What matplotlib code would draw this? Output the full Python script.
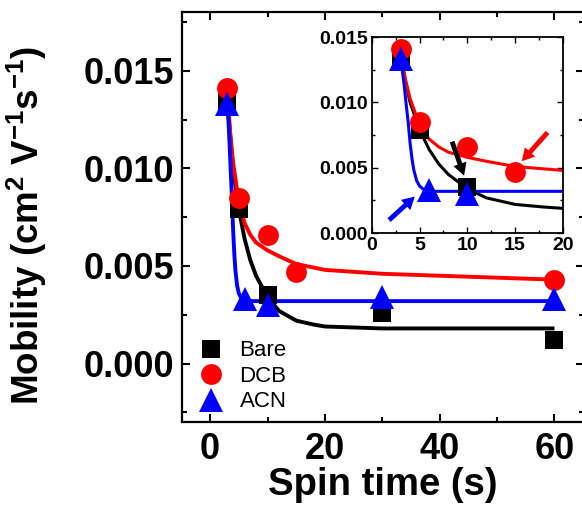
import matplotlib
matplotlib.use("Agg")
import matplotlib.pyplot as plt
from matplotlib.ticker import MultipleLocator, FormatStrFormatter
from matplotlib.patches import FancyArrowPatch

plt.rcParams['font.family'] = ['Liberation Sans', 'DejaVu Sans']
plt.rcParams['mathtext.fontset'] = 'custom'
plt.rcParams['mathtext.rm'] = 'Liberation Sans:bold'
plt.rcParams['mathtext.bf'] = 'Liberation Sans:bold'

# ---- data ----
bare_x = [3, 5, 10, 30, 60]
bare_y = [0.0134, 0.0079, 0.0035, 0.0026, 0.0012]
dcb_x = [3, 5, 10, 15, 60]
dcb_y = [0.0141, 0.0085, 0.0066, 0.0047, 0.0043]
acn_x = [3, 6, 10, 30, 60]
acn_y = [0.0133, 0.0033, 0.0030, 0.0034, 0.0033]

# fitted curves
bare_fit_x = [3, 4, 5, 6, 7, 8, 10, 12, 15, 18, 20, 25, 30, 40, 50, 60]
bare_fit_y = [0.0134, 0.0100, 0.0079, 0.0064, 0.0053, 0.0045, 0.0034, 0.0027,
              0.0022, 0.0020, 0.0019, 0.00185, 0.0018, 0.0018, 0.0018, 0.0018]
dcb_fit_x = [3, 3.5, 4, 5, 6, 7, 8, 10, 12, 15, 20, 30, 40, 50, 60]
dcb_fit_y = [0.0141, 0.0118, 0.0103, 0.0083, 0.0072, 0.0066, 0.0062, 0.0058,
             0.0055, 0.0051, 0.0048, 0.0046, 0.0045, 0.0044, 0.0043]
acn_fit_x = [3, 3.2, 3.4, 3.6, 3.8, 4.0, 4.2, 4.4, 4.7, 5.0, 5.5, 6, 10, 30, 60]
acn_fit_y = [0.0133, 0.0124, 0.0112, 0.0098, 0.0085, 0.0069, 0.0057, 0.0048,
             0.0040, 0.0036, 0.0033, 0.0032, 0.0032, 0.0032, 0.0032]

labels = ['Bare', 'DCB', 'ACN']
colors = ['black', '#ff0000', '#0000ff']
markers = ['s', 'o', '^']
msizes = [12.5, 15, 17]

fig = plt.figure(figsize=(5.82, 5.08), dpi=100)
ax = fig.add_axes([0.3127, 0.169, 0.6903, 0.807])

series = [(bare_x, bare_y, bare_fit_x, bare_fit_y),
          (dcb_x, dcb_y, dcb_fit_x, dcb_fit_y),
          (acn_x, acn_y, acn_fit_x, acn_fit_y)]

def draw(a, lw):
    handles = []
    for (x, y, fx, fy), c, m, ms, lab in zip(series, colors, markers, msizes, labels):
        a.plot(fx, fy, '-', color=c, lw=lw, zorder=2, solid_capstyle='butt')
        h, = a.plot(x, y, linestyle='none', marker=m, color=c, markersize=ms,
                    markeredgewidth=0, zorder=3, label=lab)
        handles.append(h)
    return handles

handles = draw(ax, 2.8)
ax.set_xlim(-4.9, 65.1)
ax.set_ylim(-0.003, 0.018)
ax.xaxis.set_major_locator(MultipleLocator(20))
ax.xaxis.set_minor_locator(MultipleLocator(10))
ax.yaxis.set_major_locator(MultipleLocator(0.005))
ax.yaxis.set_minor_locator(MultipleLocator(0.0025))
ax.yaxis.set_major_formatter(FormatStrFormatter('%.3f'))
ax.tick_params(which='both', direction='in', top=True, right=True, width=1.5)
ax.tick_params(which='major', length=6, labelsize=26)
ax.tick_params(axis='y', which='major', pad=5.5)
ax.tick_params(axis='x', which='major', pad=7)
ax.tick_params(which='minor', length=3.5)
for lab in ax.get_xticklabels() + ax.get_yticklabels():
    lab.set_fontweight('bold')
for s in ax.spines.values():
    s.set_linewidth(1.6)
ax.set_xlabel('Spin time (s)', fontsize=27.5, fontweight='bold', labelpad=0)
ax.set_ylabel(r'Mobility (cm$^{2}$ V$^{-1}$s$^{-1}$)', fontsize=26.5, fontweight='bold')
ax.yaxis.set_label_coords(-0.33, 0.48)

leg = ax.legend(handles=handles, loc='lower left', bbox_to_anchor=(0.005, -0.014),
                frameon=False, fontsize=16, handlelength=1.0, handletextpad=0.8,
                labelspacing=0.2, borderaxespad=0.3, numpoints=1)

# ---- inset ----
ins = fig.add_axes([0.639, 0.541, 0.328, 0.386])
draw(ins, 2.2)
ins.set_xlim(0, 20)
ins.set_ylim(0, 0.015)
ins.xaxis.set_major_locator(MultipleLocator(5))
ins.xaxis.set_minor_locator(MultipleLocator(2.5))
ins.yaxis.set_major_locator(MultipleLocator(0.005))
ins.yaxis.set_minor_locator(MultipleLocator(0.0025))
ins.yaxis.set_major_formatter(FormatStrFormatter('%.3f'))
ins.tick_params(which='both', direction='in', top=True, right=True, width=1.0)
ins.tick_params(which='major', length=4, labelsize=14, pad=3)
ins.tick_params(which='minor', length=2.5)
for lab in ins.get_xticklabels() + ins.get_yticklabels():
    lab.set_fontweight('bold')
for s in ins.spines.values():
    s.set_linewidth(1.3)

arrows = [((18.4, 0.0077), (15.7, 0.0055), '#ff0000'),
          ((8.4, 0.0070), (9.66, 0.0044), 'black'),
          ((1.8, 0.0010), (4.5, 0.0028), '#0000ff')]
for (x0, y0), (x1, y1), c in arrows:
    ins.add_patch(FancyArrowPatch((x0, y0), (x1, y1),
                  arrowstyle='simple,head_width=10,head_length=9,tail_width=3.5',
                  color=c, lw=0, zorder=4, shrinkA=0, shrinkB=0))

fig.savefig('out.png', dpi=100)
